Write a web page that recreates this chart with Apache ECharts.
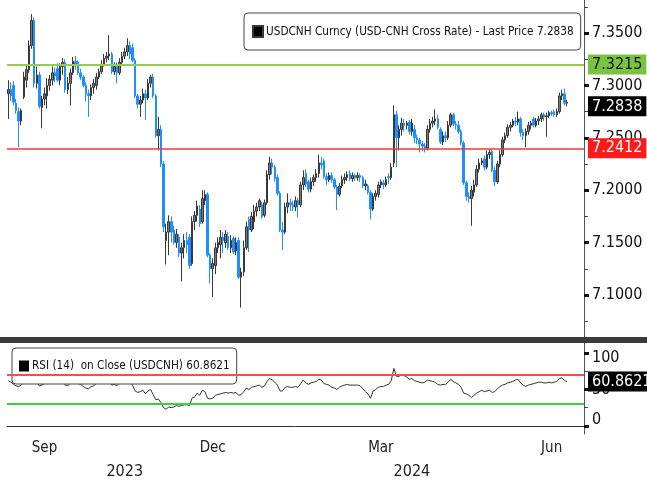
<!DOCTYPE html>
<html>
<head>
    <meta charset="UTF-8">
    <script src="https://cdn.jsdelivr.net/npm/echarts@6/dist/echarts.min.js"></script>
    <style>
        html, body { margin: 0; padding: 0; background: #fff; }
        #main { width: 647px; height: 484px; }
    </style>
</head>
<body>
<div id="main"></div>
<script>
    // trading days (weekdays) shown on the axis
    const firstDay = '2023-08-28';
    const lastDay = '2024-07-03';
    const monthNames = ['Jan', 'Feb', 'Mar', 'Apr', 'May', 'Jun', 'Jul', 'Aug', 'Sep', 'Oct', 'Nov', 'Dec'];
    const labelMonths = ['Sep', 'Dec', 'Mar', 'Jun'];

    // USDCNH daily candles
    const opens = [
        7.292, 7.296, 7.300, 7.283, 7.275, 7.266, 7.289, 7.305, 7.315, 7.338,
        7.362, 7.302, 7.310, 7.279, 7.287, 7.290, 7.300, 7.305, 7.312, 7.316,
        7.305, 7.318, 7.322, 7.296, 7.302, 7.312, 7.323, 7.322, 7.312, 7.308,
        7.300, 7.292, 7.290, 7.298, 7.300, 7.308, 7.313, 7.320, 7.326, 7.328,
        7.330, 7.313, 7.318, 7.312, 7.322, 7.328, 7.332, 7.338, 7.336, 7.324,
        7.290, 7.282, 7.286, 7.292, 7.288, 7.302, 7.308, 7.290, 7.252, 7.258,
        7.225, 7.152, 7.160, 7.170, 7.162, 7.150, 7.155, 7.140, 7.145, 7.152,
        7.155, 7.130, 7.170, 7.176, 7.182, 7.170, 7.190, 7.196, 7.138, 7.125,
        7.128, 7.145, 7.148, 7.155, 7.150, 7.156, 7.145, 7.154, 7.142, 7.152,
        7.117, 7.122, 7.145, 7.172, 7.162, 7.170, 7.180, 7.184, 7.186, 7.176,
        7.188, 7.215, 7.226, 7.222, 7.212, 7.197, 7.162, 7.160, 7.184, 7.188,
        7.186, 7.184, 7.190, 7.186, 7.205, 7.216, 7.208, 7.201, 7.208, 7.212,
        7.216, 7.226, 7.228, 7.213, 7.210, 7.214, 7.210, 7.203, 7.196, 7.204,
        7.210, 7.212, 7.216, 7.211, 7.214, 7.212, 7.214, 7.212, 7.204, 7.204,
        7.198, 7.182, 7.194, 7.196, 7.205, 7.207, 7.205, 7.213, 7.212, 7.226,
        7.272, 7.250, 7.258, 7.264, 7.262, 7.265, 7.256, 7.258, 7.250, 7.248,
        7.244, 7.242, 7.240, 7.258, 7.264, 7.266, 7.268, 7.258, 7.246, 7.252,
        7.250, 7.262, 7.272, 7.263, 7.262, 7.256, 7.245, 7.207, 7.194, 7.192,
        7.198, 7.205, 7.220, 7.226, 7.230, 7.222, 7.234, 7.237, 7.219, 7.208,
        7.225, 7.234, 7.248, 7.252, 7.260, 7.262, 7.266, 7.265, 7.268, 7.255,
        7.252, 7.256, 7.262, 7.268, 7.262, 7.266, 7.268, 7.272, 7.270, 7.271,
        7.274, 7.275, 7.272, 7.275, 7.290, 7.292, 7.283
    ];
    const closes = [
        7.296, 7.290, 7.284, 7.276, 7.266, 7.276, 7.308, 7.315, 7.338, 7.362,
        7.302, 7.310, 7.280, 7.287, 7.292, 7.300, 7.306, 7.312, 7.309, 7.305,
        7.318, 7.322, 7.296, 7.302, 7.312, 7.323, 7.320, 7.312, 7.308, 7.300,
        7.292, 7.290, 7.298, 7.302, 7.308, 7.313, 7.320, 7.326, 7.328, 7.330,
        7.313, 7.318, 7.312, 7.322, 7.328, 7.332, 7.338, 7.330, 7.324, 7.290,
        7.282, 7.286, 7.292, 7.288, 7.302, 7.308, 7.290, 7.252, 7.258, 7.225,
        7.165, 7.160, 7.170, 7.160, 7.150, 7.158, 7.140, 7.145, 7.152, 7.148,
        7.128, 7.170, 7.176, 7.185, 7.168, 7.192, 7.196, 7.138, 7.125, 7.130,
        7.145, 7.150, 7.155, 7.152, 7.158, 7.145, 7.152, 7.141, 7.150, 7.117,
        7.122, 7.145, 7.165, 7.162, 7.175, 7.180, 7.184, 7.190, 7.175, 7.188,
        7.215, 7.226, 7.222, 7.211, 7.197, 7.162, 7.160, 7.184, 7.188, 7.186,
        7.184, 7.190, 7.186, 7.205, 7.212, 7.206, 7.201, 7.208, 7.212, 7.216,
        7.226, 7.224, 7.213, 7.210, 7.214, 7.210, 7.203, 7.196, 7.204, 7.210,
        7.212, 7.215, 7.211, 7.214, 7.212, 7.214, 7.212, 7.204, 7.206, 7.198,
        7.182, 7.194, 7.197, 7.205, 7.208, 7.205, 7.210, 7.212, 7.222, 7.272,
        7.250, 7.258, 7.264, 7.262, 7.264, 7.256, 7.264, 7.250, 7.248, 7.244,
        7.242, 7.240, 7.258, 7.264, 7.266, 7.268, 7.260, 7.246, 7.252, 7.250,
        7.262, 7.272, 7.263, 7.262, 7.256, 7.245, 7.207, 7.194, 7.192, 7.200,
        7.205, 7.220, 7.226, 7.228, 7.222, 7.234, 7.236, 7.219, 7.208, 7.225,
        7.234, 7.248, 7.252, 7.260, 7.262, 7.266, 7.265, 7.268, 7.255, 7.252,
        7.256, 7.262, 7.264, 7.262, 7.266, 7.268, 7.272, 7.270, 7.271, 7.274,
        7.273, 7.272, 7.275, 7.290, 7.292, 7.283, 7.2838
    ];
    const lows = [
        7.268, 7.285, 7.281, 7.273, 7.241, 7.262, 7.287, 7.298, 7.312, 7.335,
        7.298, 7.297, 7.278, 7.259, 7.281, 7.278, 7.295, 7.300, 7.303, 7.303,
        7.300, 7.310, 7.293, 7.292, 7.281, 7.310, 7.315, 7.310, 7.305, 7.298,
        7.285, 7.270, 7.286, 7.292, 7.296, 7.306, 7.311, 7.318, 7.322, 7.324,
        7.311, 7.310, 7.302, 7.310, 7.320, 7.325, 7.328, 7.325, 7.322, 7.288,
        7.278, 7.270, 7.283, 7.267, 7.286, 7.298, 7.288, 7.250, 7.238, 7.222,
        7.160, 7.129, 7.138, 7.150, 7.148, 7.145, 7.136, 7.113, 7.135, 7.140,
        7.125, 7.128, 7.162, 7.170, 7.165, 7.168, 7.186, 7.136, 7.111, 7.098,
        7.120, 7.140, 7.135, 7.140, 7.145, 7.143, 7.140, 7.139, 7.138, 7.115,
        7.088, 7.118, 7.143, 7.141, 7.160, 7.163, 7.175, 7.180, 7.173, 7.174,
        7.186, 7.210, 7.215, 7.208, 7.195, 7.160, 7.143, 7.158, 7.178, 7.180,
        7.180, 7.180, 7.174, 7.184, 7.200, 7.203, 7.198, 7.198, 7.204, 7.208,
        7.212, 7.220, 7.211, 7.205, 7.208, 7.207, 7.201, 7.181, 7.194, 7.202,
        7.206, 7.209, 7.209, 7.208, 7.209, 7.209, 7.208, 7.202, 7.200, 7.196,
        7.172, 7.180, 7.190, 7.193, 7.202, 7.201, 7.203, 7.206, 7.210, 7.222,
        7.222, 7.238, 7.252, 7.256, 7.258, 7.253, 7.252, 7.245, 7.244, 7.236,
        7.237, 7.236, 7.238, 7.255, 7.260, 7.262, 7.258, 7.244, 7.243, 7.246,
        7.248, 7.260, 7.261, 7.258, 7.254, 7.243, 7.205, 7.190, 7.188, 7.166,
        7.194, 7.203, 7.217, 7.224, 7.219, 7.220, 7.230, 7.217, 7.204, 7.206,
        7.222, 7.232, 7.245, 7.250, 7.256, 7.260, 7.261, 7.262, 7.251, 7.248,
        7.241, 7.253, 7.258, 7.260, 7.260, 7.262, 7.265, 7.266, 7.251, 7.269,
        7.271, 7.270, 7.270, 7.273, 7.286, 7.281, 7.280
    ];
    const highs = [
        7.305, 7.303, 7.304, 7.287, 7.279, 7.278, 7.313, 7.319, 7.343, 7.368,
        7.365, 7.318, 7.313, 7.290, 7.298, 7.307, 7.310, 7.318, 7.317, 7.321,
        7.321, 7.326, 7.325, 7.308, 7.316, 7.327, 7.328, 7.324, 7.316, 7.310,
        7.303, 7.296, 7.301, 7.306, 7.312, 7.316, 7.324, 7.330, 7.332, 7.348,
        7.332, 7.322, 7.322, 7.326, 7.332, 7.336, 7.345, 7.342, 7.340, 7.326,
        7.292, 7.290, 7.297, 7.296, 7.306, 7.310, 7.311, 7.292, 7.270, 7.262,
        7.228, 7.168, 7.176, 7.175, 7.166, 7.163, 7.158, 7.150, 7.158, 7.160,
        7.158, 7.175, 7.180, 7.190, 7.186, 7.200, 7.200, 7.198, 7.140, 7.135,
        7.150, 7.155, 7.162, 7.160, 7.162, 7.160, 7.157, 7.156, 7.155, 7.155,
        7.126, 7.152, 7.170, 7.175, 7.179, 7.186, 7.188, 7.192, 7.189, 7.191,
        7.219, 7.232, 7.230, 7.224, 7.215, 7.199, 7.170, 7.188, 7.197, 7.192,
        7.190, 7.194, 7.193, 7.208, 7.219, 7.220, 7.210, 7.212, 7.215, 7.220,
        7.234, 7.232, 7.230, 7.216, 7.217, 7.217, 7.212, 7.205, 7.207, 7.214,
        7.216, 7.218, 7.219, 7.217, 7.216, 7.217, 7.216, 7.214, 7.210, 7.206,
        7.200, 7.197, 7.200, 7.208, 7.210, 7.210, 7.213, 7.216, 7.226, 7.281,
        7.276, 7.262, 7.269, 7.268, 7.266, 7.267, 7.268, 7.262, 7.253, 7.250,
        7.247, 7.245, 7.262, 7.268, 7.270, 7.277, 7.272, 7.260, 7.256, 7.256,
        7.266, 7.274, 7.274, 7.266, 7.266, 7.258, 7.247, 7.209, 7.198, 7.204,
        7.210, 7.224, 7.230, 7.231, 7.233, 7.238, 7.239, 7.239, 7.222, 7.228,
        7.238, 7.251, 7.255, 7.263, 7.265, 7.268, 7.270, 7.275, 7.270, 7.258,
        7.259, 7.265, 7.266, 7.270, 7.269, 7.271, 7.274, 7.274, 7.274, 7.276,
        7.276, 7.277, 7.278, 7.293, 7.296, 7.297, 7.286
    ];

    // RSI(14) on close
    const rsi = [
        62, 60, 57, 55, 54, 56, 62, 65, 70, 74,
        60, 61, 55, 56, 58, 60, 61, 63, 62, 60,
        63, 62, 56, 55, 59, 62, 61, 58, 57, 54,
        52, 51, 54, 55, 58, 59, 61, 63, 63, 64,
        56, 57, 55, 59, 61, 62, 64, 60, 56, 48,
        46, 47, 49, 44, 48, 50, 43, 36, 37, 32,
        25, 23, 26, 25, 26, 28, 27, 28, 29, 29,
        28, 38, 40, 45, 42, 49, 47, 38, 37, 38,
        42, 43, 44, 45, 46, 45, 46, 45, 46, 42,
        43, 47, 52, 50, 53, 54, 55, 56, 53, 55,
        61, 65, 63, 60, 56, 48, 48, 53, 54, 53,
        53, 54, 53, 58, 63, 59, 57, 59, 60, 61,
        64, 63, 58, 57, 56, 53, 52, 50, 53, 55,
        56, 57, 56, 56, 56, 56, 55, 51, 47, 44,
        38, 48, 50, 53, 54, 54, 56, 57, 62, 79,
        68, 68, 70, 69, 67, 64, 65, 62, 61, 60,
        59, 60, 63, 62, 61, 60, 57, 56, 57, 57,
        60, 64, 61, 59, 57, 53, 45, 44, 42, 39,
        42, 45, 47, 49, 47, 48, 49, 46, 47, 51,
        54, 56, 57, 59, 60, 61, 63, 64, 59, 56,
        54, 56, 57, 58, 59, 60, 60, 59, 59, 60,
        59, 60, 61, 65, 66, 62, 60.8621
    ];

    const priceLabels = [7.10, 7.15, 7.20, 7.25, 7.30, 7.35];
    const priceMinorTicks = [7.075, 7.125, 7.175, 7.225, 7.275, 7.325, 7.375];
    const rsiLabels = [0, 50, 100];
    const rsiMinorTicks = [25, 75];
    const resistance = 7.3215;
    const support = 7.2412;
    const lastPrice = 7.2838;
    const rsiHigh = 70;
    const rsiLow = 30;
    const lastRsi = 60.8621;

    const priceName = 'USDCNH Curncy (USD-CNH Cross Rate) - Last Price 7.2838';
    const rsiName = 'RSI (14)  on Close (USDCNH) 60.8621';

    const FONT = "'DejaVu Sans Condensed', 'Liberation Sans Narrow', sans-serif";

    // build weekday categories, month ticks and label spots
    const dates = [];
    for (let d = new Date(firstDay + 'T00:00:00Z'); d <= new Date(lastDay + 'T00:00:00Z'); d.setUTCDate(d.getUTCDate() + 1)) {
        const wd = d.getUTCDay();
        if (wd === 0 || wd === 6) continue;
        dates.push(d.toISOString().slice(0, 10));
    }
    const monthTicks = new Set();
    const monthSpans = {};
    const yearSpans = {};
    dates.forEach(function (s, i) {
        const ym = s.slice(0, 7), y = s.slice(0, 4);
        if (i > 0 && ym !== dates[i - 1].slice(0, 7)) monthTicks.add(i);
        if (!monthSpans[ym]) monthSpans[ym] = [i, i];
        monthSpans[ym][1] = i;
        if (!yearSpans[y]) yearSpans[y] = [i, i];
        yearSpans[y][1] = i;
    });
    const monthLabelIdx = new Set();
    Object.keys(monthSpans).forEach(function (ym) {
        const name = monthNames[+ym.slice(5, 7) - 1];
        if (labelMonths.indexOf(name) >= 0) {
            monthLabelIdx.add(Math.round((monthSpans[ym][0] + monthSpans[ym][1]) / 2));
        }
    });
    const yearLabelIdx = new Set();
    const yearTickIdx = new Set();
    Object.keys(yearSpans).forEach(function (y, k) {
        yearLabelIdx.add(Math.round((yearSpans[y][0] + yearSpans[y][1]) / 2));
        if (k > 0) yearTickIdx.add(yearSpans[y][0]);
    });

    const candles = opens.map(function (o, i) {
        return [o, closes[i], lows[i], highs[i]];
    });

    function tagLabel(text, bg, fg) {
        return {
            show: true,
            position: 'end',
            distance: 4,
            formatter: text,
            backgroundColor: bg,
            color: fg,
            fontFamily: FONT,
            fontSize: 16,
            padding: [2, 4, 2, 4]
        };
    }
    const hiddenLine = {color: 'rgba(0,0,0,0)', width: 0};

    const chart = echarts.init(document.getElementById('main'));
    chart.setOption({
        animation: false,
        backgroundColor: '#fff',
        grid: [
            {left: 7, right: 63, top: 0, bottom: 147},
            {left: 7, right: 63, top: 343, bottom: 50}
        ],
        legend: [
            {
                left: 244, top: 13,
                padding: [12, 7, 12, 8],
                borderColor: '#444', borderWidth: 1, borderRadius: 4,
                backgroundColor: '#fff',
                itemWidth: 10, itemHeight: 11,
                selectedMode: false,
                textStyle: {fontFamily: FONT, fontSize: 11.7, color: '#111', padding: [0, 0, 0, -2]},
                data: [{name: priceName, icon: 'rect', itemStyle: {color: '#000'}}]
            },
            {
                left: 12, top: 348,
                padding: [12, 7, 12, 7],
                borderColor: '#444', borderWidth: 1, borderRadius: 4,
                backgroundColor: '#fff',
                itemWidth: 10, itemHeight: 11,
                selectedMode: false,
                textStyle: {fontFamily: FONT, fontSize: 11.7, color: '#111', padding: [0, 0, 0, -2]},
                data: [{name: rsiName, icon: 'rect', itemStyle: {color: '#000'}}]
            }
        ],
        xAxis: [
            {type: 'category', gridIndex: 0, data: dates, show: false},
            {
                type: 'category', gridIndex: 1, data: dates,
                axisLine: {lineStyle: {color: '#333', width: 1}},
                axisTick: {
                    interval: function (i) { return monthTicks.has(i); },
                    length: 5,
                    lineStyle: {color: '#333'}
                },
                axisLabel: {
                    interval: function (i) { return monthLabelIdx.has(i); },
                    formatter: function (v) { return monthNames[+v.slice(5, 7) - 1]; },
                    fontFamily: FONT, fontSize: 15, color: '#222', margin: 7
                }
            },
            {
                type: 'category', gridIndex: 1, data: dates, position: 'bottom', offset: 24,
                axisLine: {show: false},
                axisTick: {
                    alignWithLabel: true,
                    interval: function (i) { return yearTickIdx.has(i); },
                    length: 26,
                    lineStyle: {color: '#aaa'}
                },
                axisLabel: {
                    interval: function (i) { return yearLabelIdx.has(i); },
                    formatter: function (v) { return v.slice(0, 4); },
                    fontFamily: FONT, fontSize: 16, color: '#222', margin: 6
                }
            }
        ],
        yAxis: [
            {
                type: 'value', gridIndex: 0, position: 'right', min: 7.0599, max: 7.3815,
                splitLine: {show: false},
                axisLine: {show: true, lineStyle: {color: '#555'}},
                axisTick: {show: true, customValues: priceMinorTicks, length: 4, lineStyle: {color: '#444'}},
                axisLabel: {
                    customValues: priceLabels,
                    formatter: function (v) { return v.toFixed(4); },
                    fontFamily: FONT, fontSize: 16, color: '#111', margin: 8
                }
            },
            {
                type: 'value', gridIndex: 0, position: 'right', min: 7.0599, max: 7.3815,
                splitLine: {show: false},
                axisLine: {show: false},
                axisTick: {show: true, customValues: priceLabels, length: 5, lineStyle: {color: '#111', width: 3}},
                axisLabel: {show: false}
            },
            {
                type: 'value', gridIndex: 1, position: 'right', min: -11, max: 113.7,
                splitLine: {show: false},
                axisLine: {show: true, lineStyle: {color: '#555'}},
                axisTick: {show: true, customValues: rsiMinorTicks, length: 4, lineStyle: {color: '#444'}},
                axisLabel: {
                    customValues: rsiLabels,
                    formatter: function (v) {
                        if (v === 100) return '{dn|100}';
                        if (v === 0) return '{up|0}';
                        return '{mid|' + v + '}';
                    },
                    rich: {
                        dn: {fontFamily: FONT, fontSize: 16, color: '#111', padding: [10, 0, 0, 0]},
                        up: {fontFamily: FONT, fontSize: 16, color: '#111', padding: [0, 0, 12, 0]},
                        mid: {fontFamily: FONT, fontSize: 16, color: '#111'}
                    },
                    margin: 8
                }
            },
            {
                type: 'value', gridIndex: 1, position: 'right', min: -11, max: 113.7,
                splitLine: {show: false},
                axisLine: {show: false},
                axisTick: {show: true, customValues: rsiLabels, length: 5, lineStyle: {color: '#111', width: 3}},
                axisLabel: {show: false}
            }
        ],
        series: [
            {
                name: priceName,
                type: 'candlestick',
                xAxisIndex: 0, yAxisIndex: 0,
                data: candles,
                barWidth: 2,
                itemStyle: {
                    color: '#7a7a7a', borderColor: '#383838',
                    color0: '#1e8fff', borderColor0: '#1e8fff',
                    borderWidth: 1
                },
                markLine: {
                    silent: true,
                    symbol: 'none',
                    data: [
                        {yAxis: resistance, lineStyle: {color: '#92cf4a', width: 2, type: 'solid'}, label: tagLabel(resistance.toFixed(4), '#7cc242', '#111')},
                        {yAxis: support, lineStyle: {color: '#f03a3a', width: 1.5, type: 'solid'}, label: tagLabel(support.toFixed(4), '#ff1a1a', '#fff')},
                        {yAxis: lastPrice, lineStyle: hiddenLine, label: tagLabel(lastPrice.toFixed(4), '#000', '#fff')}
                    ]
                }
            },
            {
                name: rsiName,
                type: 'line',
                xAxisIndex: 1, yAxisIndex: 2,
                data: rsi,
                symbol: 'none',
                itemStyle: {color: '#000'},
                lineStyle: {color: '#333', width: 1},
                markLine: {
                    silent: true,
                    symbol: 'none',
                    data: [
                        {yAxis: rsiHigh, lineStyle: {color: '#f05050', width: 2, type: 'solid'}, label: {show: false}},
                        {yAxis: rsiLow, lineStyle: {color: '#3ad23a', width: 2, type: 'solid'}, label: {show: false}},
                        {yAxis: lastRsi, lineStyle: hiddenLine, label: tagLabel(lastRsi.toFixed(4), '#000', '#fff')}
                    ]
                }
            }
        ],
        graphic: [
            {
                type: 'rect', left: 0, top: 337, z: 100,
                shape: {width: 647, height: 6},
                style: {fill: '#3c3c3c'}
            }
        ]
    });
</script>
</body>
</html>
